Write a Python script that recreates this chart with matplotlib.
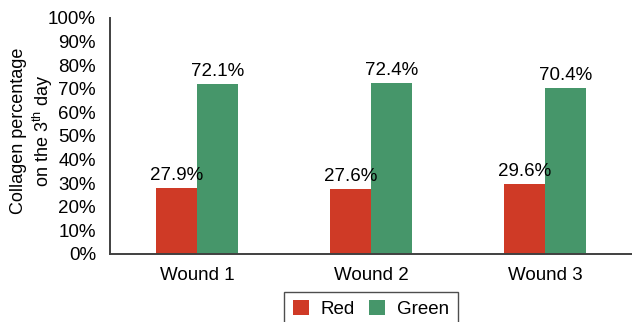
import numpy as np
import matplotlib
matplotlib.use("Agg")
import matplotlib.pyplot as plt

plt.rcParams['font.family'] = ['Liberation Sans', 'DejaVu Sans']
plt.rcParams['mathtext.fontset'] = 'custom'
plt.rcParams['mathtext.rm'] = 'Liberation Sans'
plt.rcParams['mathtext.it'] = 'Liberation Sans'

wounds = ["Wound 1", "Wound 2", "Wound 3"]
red_pct = [27.9, 27.6, 29.6]
green_pct = [72.1, 72.4, 70.4]
yticks = list(range(0, 101, 10))

RED = "#CF3A26"
GREEN = "#46966A"
FS = 13.5

fig = plt.figure(figsize=(6.32, 3.22), dpi=100)
ax = fig.add_axes([110 / 632, 1 - 254 / 322, 522 / 632, 236 / 322])

x = np.arange(len(wounds))
w = 0.236
b1 = ax.bar(x - w / 2, red_pct, w, color=RED, label="Red")
b2 = ax.bar(x + w / 2, green_pct, w, color=GREEN, label="Green")

# value labels above each bar
for bars, vals in ((b1, red_pct), (b2, green_pct)):
    for bar, v in zip(bars, vals):
        ax.text(bar.get_x() + bar.get_width() / 2, v + 1.8, f"{v}%",
                ha="center", va="bottom", fontsize=FS)

ax.set_xlim(-0.5, len(wounds) - 0.5)
ax.set_ylim(0, 100)
ax.set_yticks(yticks)
ax.set_yticklabels([f"{t}%" for t in yticks], fontsize=FS)
ax.set_xticks(x)
ax.set_xticklabels(wounds, fontsize=FS)
ax.tick_params(axis="y", length=0, pad=10)
ax.tick_params(axis="x", length=0, pad=9)

for s in ("top", "right"):
    ax.spines[s].set_visible(False)
for s in ("left", "bottom"):
    ax.spines[s].set_color("#404040")
    ax.spines[s].set_linewidth(1.4)

ax.set_ylabel("Collagen percentage\non the 3$^{\\rm th}$ day", fontsize=13,
              linespacing=1.2, va="center", ha="center")
ax.yaxis.set_label_coords(-0.148, 0.52)

fig.legend(loc="upper center", bbox_to_anchor=(371 / 632, 1 - 292 / 322),
           ncol=2, fontsize=FS, frameon=True, fancybox=False,
           edgecolor="#222222", handlelength=0.85, handleheight=0.85,
           handletextpad=0.65, columnspacing=0.75, borderpad=0.45,
           borderaxespad=0)

fig.savefig("out.png", dpi=100)
